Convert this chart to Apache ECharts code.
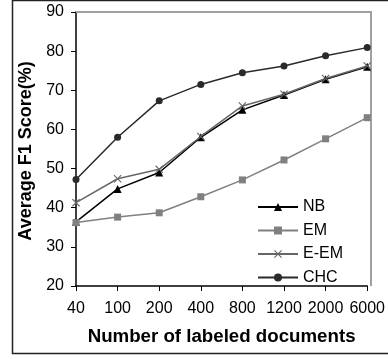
<!DOCTYPE html>
<html><head><meta charset="utf-8">
<script src="https://cdn.jsdelivr.net/npm/echarts@6/dist/echarts.min.js"></script>
<style>html,body{margin:0;padding:0;background:#fff}#c{width:388px;height:359px}</style>
</head><body><div id="c"></div>
<script>
const categories = ['40','100','200','400','800','1200','2000','6000'];
const nb   = [36.4, 44.8, 49.0, 58.0, 65.0, 68.8, 72.8, 76.0];
const em   = [36.2, 37.6, 38.7, 42.8, 47.1, 52.2, 57.6, 63.0];
const eem  = [41.3, 47.4, 49.8, 58.2, 66.0, 69.0, 73.0, 76.2];
const chc  = [47.2, 58.0, 67.3, 71.5, 74.5, 76.2, 78.8, 80.9];
const yTicks = {min: 20, max: 90, interval: 10};

const xSym = 'path://M0,1L1,0L5,4L9,0L10,1L6,5L10,9L9,10L5,6L1,10L0,9L4,5Z';
const font = 'Liberation Sans, Arial, sans-serif';
const chart = echarts.init(document.getElementById('c'));
function ser(name, data, color, symbol, size, w) {
  return {name, type:'line', data, symbol, symbolSize:size,
    lineStyle:{color, width:w}, itemStyle:{color}, z: 3};
}
chart.setOption({
  animation:false,
  graphic:[
    {type:'rect', shape:{x:12.5,y:0.5,width:390,height:353}, style:{fill:null, stroke:'#222', lineWidth:1.5}, z:0},
    {type:'polyline', shape:{points:[[76,12],[371,12],[371,286]]}, style:{stroke:'#a0a0a0', lineWidth:2, fill:null}, z:1}
  ],
  grid:{left:76, right:17, top:12, bottom:73, containLabel:false},
  xAxis:{type:'category', data:categories, boundaryGap:false,
    axisLine:{lineStyle:{color:'#000', width:1.5}},
    axisTick:{show:true, length:5, inside:false, lineStyle:{color:'#000'}},
    axisLabel:{color:'#000', fontSize:16, fontFamily:font, margin:15, interval:0},
    splitLine:{show:false},
    name:'Number of labeled documents', nameLocation:'middle', nameGap:41,
    nameTextStyle:{color:'#000', fontSize:18.7, fontWeight:'bold', fontFamily:font}},
  yAxis:{type:'value', min:yTicks.min, max:yTicks.max, interval:yTicks.interval,
    axisLine:{show:true, lineStyle:{color:'#000', width:1.5}},
    axisTick:{show:true, length:5, lineStyle:{color:'#000'}},
    axisLabel:{color:'#000', fontSize:16, fontFamily:font, margin:12},
    splitLine:{show:false},
    name:'Average F1 Score(%)', nameLocation:'middle', nameGap:35,
    nameTextStyle:{color:'#000', fontSize:18, fontWeight:'bold', fontFamily:font, padding:[0,4,0,0]}},
  legend:{orient:'vertical', left:252, top:194, itemWidth:40, itemHeight:10, itemGap:7.5,
    textStyle:{color:'#000', fontSize:16, fontFamily:font},
    backgroundColor:'transparent',
    data:['NB','EM','E-EM','CHC']},
  series:[
    ser('NB', nb, '#000000', 'triangle', 8, 1.5),
    ser('EM', em, '#808080', 'rect', 7, 1.5),
    ser('E-EM', eem, '#666666', xSym, 8, 1.5),
    ser('CHC', chc, '#2a2a2a', 'circle', 7, 1.5)
  ]
});
</script></body></html>
